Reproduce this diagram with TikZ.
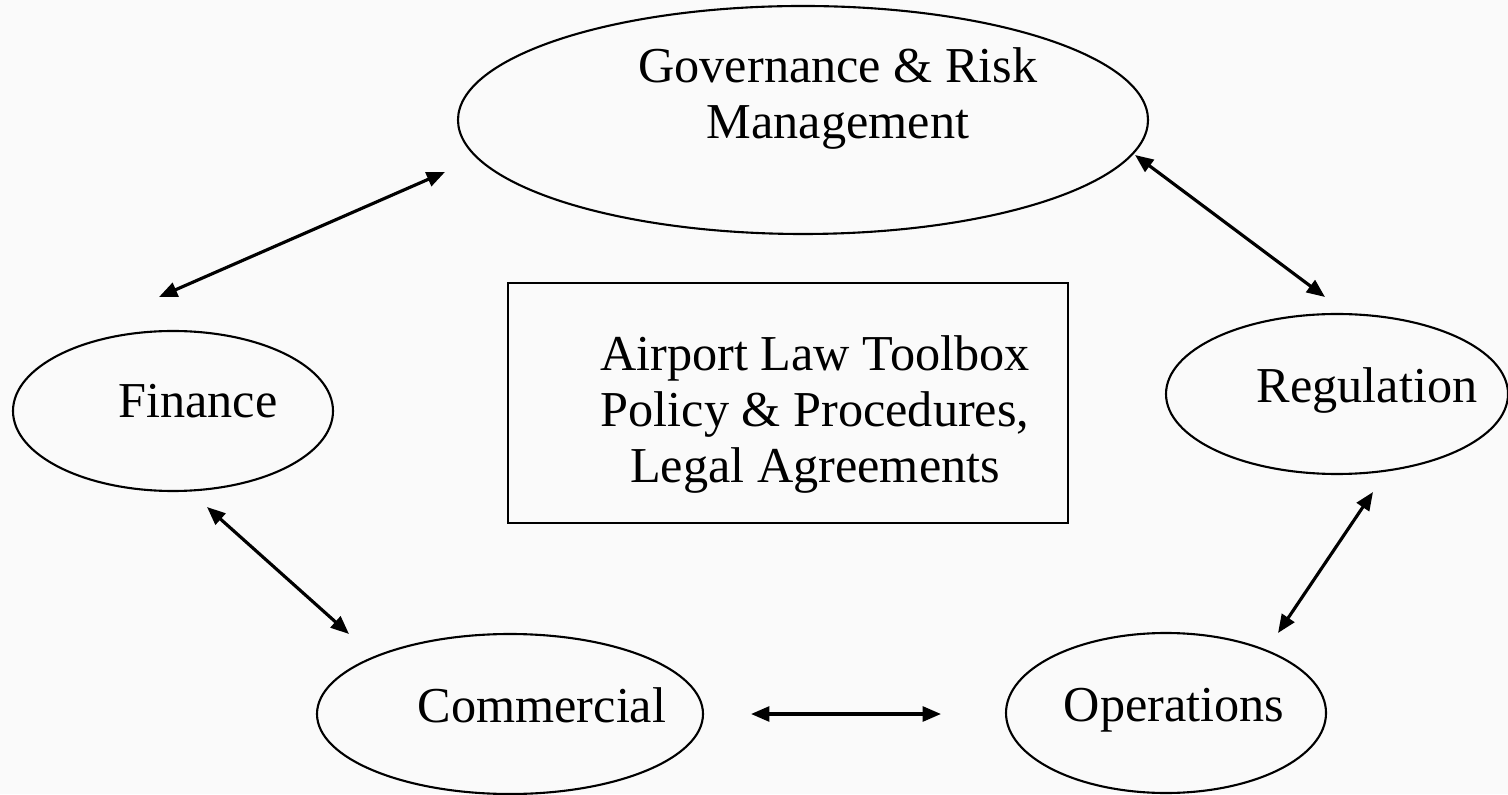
\documentclass[tikz,border=0pt]{standalone}
\usepackage{fontspec}
\setmainfont{Liberation Serif}
\usepackage{xcolor}
\usepackage{tikz}
\usetikzlibrary{shapes.geometric}
\usetikzlibrary{arrows.meta}
\tikzset{
    areanode/.style = {ellipse, draw=black, line width=0.6pt, inner sep=0pt},
    boxnode/.style = {rectangle, draw=black, line width=0.75pt, inner sep=0pt},
    txt/.style = {align=center, inner sep=0pt, font=\fontsize{14.3}{15.9}\selectfont},
}
\begin{document}
\begin{tikzpicture}[
	>={Triangle[length=5.2pt,width=4.2pt]}
]
\tikzset{
    edgeb/.style = {<->, line width=0.9pt}
}
\path[fill=black!2] (0,0) rectangle (15.08,7.94);
\useasboundingbox (0,0) rectangle (15.08,7.94);
%
\node[areanode, minimum width=6.9cm, minimum height=2.28cm,
      label={[txt,xshift=3.5mm,yshift=2.15mm]center:Governance \& Risk\\Management}] at (8.03,6.74) (gov) {};
\node[areanode, minimum width=3.2cm, minimum height=1.6cm,
      label={[txt,xshift=2.5mm,yshift=1.0mm]center:Finance}] at (1.73,3.83) (fin) {};
\node[areanode, minimum width=3.42cm, minimum height=1.6cm,
      label={[txt,xshift=3.0mm,yshift=0.35mm]center:Regulation}] at (13.37,4.00) (reg) {};
\node[areanode, minimum width=3.86cm, minimum height=1.6cm,
      label={[txt,xshift=3.2mm,yshift=0.9mm]center:Commercial}] at (5.10,0.80) (com) {};
\node[areanode, minimum width=3.2cm, minimum height=1.6cm,
      label={[txt,xshift=0.8mm,yshift=0.25mm]center:Operations}] at (11.66,0.81) (ops) {};
\node[boxnode, minimum width=5.6cm, minimum height=2.4cm,
      label={[txt,xshift=2.7mm,yshift=-1.15mm]center:Airport Law Toolbox\\Policy \& Procedures,\\Legal Agreements}] at (7.88,3.91) (law) {};
%
\coordinate (finTop) at (1.59,4.97);
\coordinate (govLeft) at (4.45,6.22);
\coordinate (govRight) at (11.35,6.39);
\coordinate (regTop) at (13.25,4.97);
\coordinate (regBot) at (13.73,3.02);
\coordinate (opsTop) at (12.78,1.61);
\coordinate (finBot) at (2.07,2.87);
\coordinate (comTop) at (3.49,1.60);
\coordinate (comRight) at (7.51,0.80);
\coordinate (opsLeft) at (9.41,0.80);
%
\draw[edgeb] (finTop) -- (govLeft);
\draw[edgeb] (govRight) -- (regTop);
\draw[edgeb] (regBot) -- (opsTop);
\draw[edgeb] (finBot) -- (comTop);
\draw[edgeb] (comRight) -- (opsLeft);
\end{tikzpicture}
\end{document}
